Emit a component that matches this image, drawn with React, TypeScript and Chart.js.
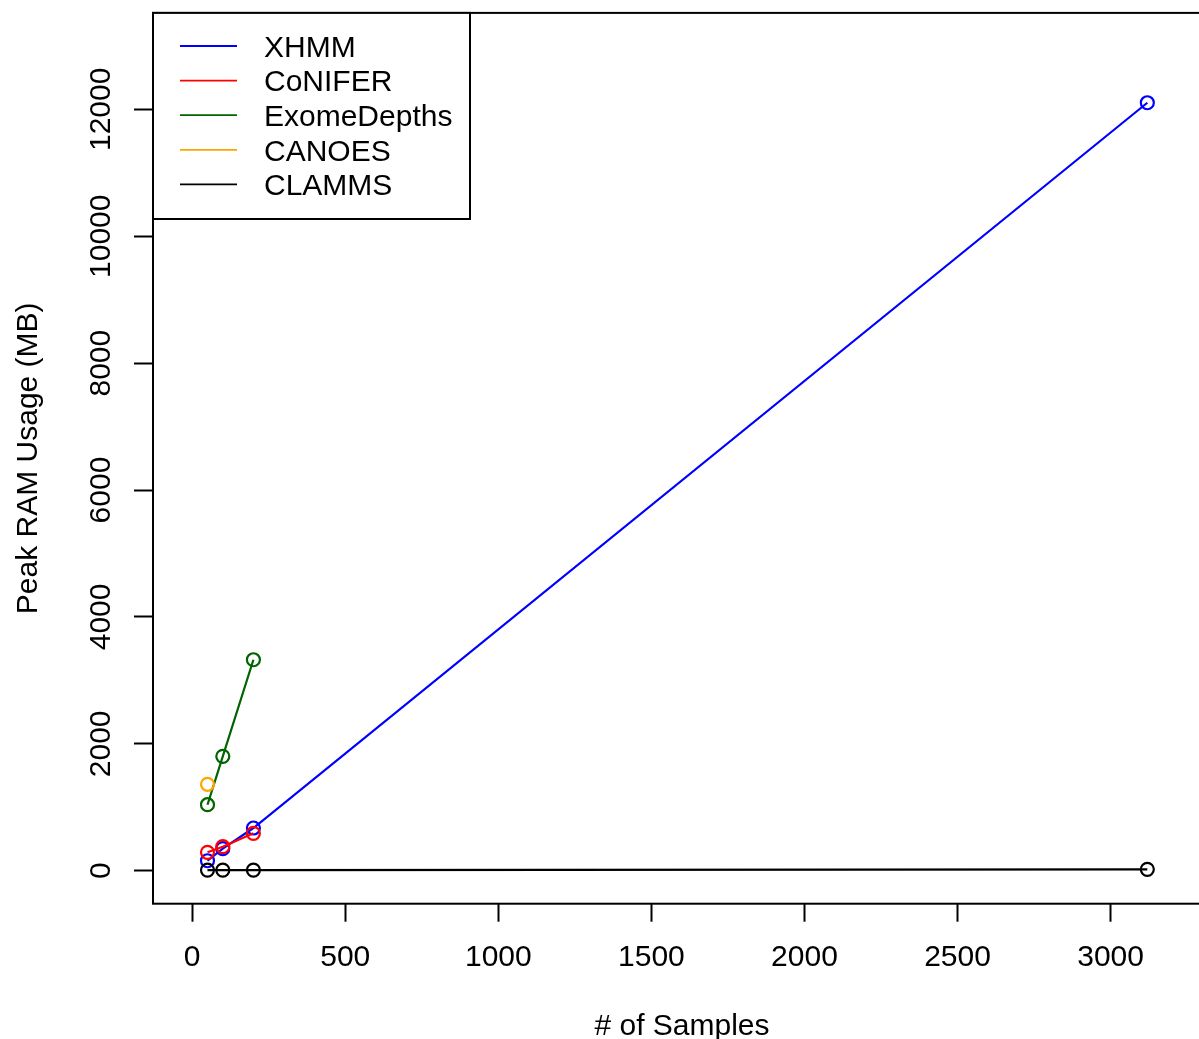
import React, { useEffect, useRef } from "react";
import { Chart, registerables } from "chart.js";

Chart.register(...registerables);

const seriesNames = ["XHMM", "CoNIFER", "ExomeDepths", "CANOES", "CLAMMS"];
const seriesColors = ["#0000FF", "#FF0000", "#006400", "#FFA500", "#000000"];

const xhmmSamples = [50, 100, 200, 3120];
const xhmmRam = [157, 347, 673, 12104];
const coniferSamples = [50, 100, 200];
const coniferRam = [290, 378, 589];
const exomeSamples = [50, 100, 200];
const exomeRam = [1040, 1803, 3325];
const canoesSamples = [50];
const canoesRam = [1362];
const clammsSamples = [50, 100, 200, 3120];
const clammsRam = [10, 10, 10, 22];

const xTicks = [0, 500, 1000, 1500, 2000, 2500, 3000];
const yTicks = [0, 2000, 4000, 6000, 8000, 10000, 12000];

const xTitle = "# of Samples";
const yTitle = "Peak RAM Usage (MB)";

const FONT = "30px 'Liberation Sans', Arial, sans-serif";

const toPoints = (xs: number[], ys: number[]) => xs.map((x, i) => ({ x, y: ys[i] }));

const seriesData = [
  toPoints(xhmmSamples, xhmmRam),
  toPoints(coniferSamples, coniferRam),
  toPoints(exomeSamples, exomeRam),
  toPoints(canoesSamples, canoesRam),
  toPoints(clammsSamples, clammsRam),
];

const decorPlugin = {
  id: "decor",
  afterDraw(chart: any) {
    const ctx = chart.ctx;
    const { left, top, right, bottom } = chart.chartArea;
    const xs = chart.scales.x;
    const ys = chart.scales.y;
    ctx.save();
    ctx.strokeStyle = "#000";
    ctx.lineWidth = 2;
    ctx.strokeRect(left, top, right - left - 1, bottom - top);

    ctx.fillStyle = "#000";
    ctx.font = FONT;
    ctx.textAlign = "center";
    ctx.textBaseline = "alphabetic";
    xTicks.forEach((v) => {
      ctx.fillText(String(v), xs.getPixelForValue(v), 966);
    });
    ctx.fillText(xTitle, (left + right) / 2, 1035);
    yTicks.forEach((v) => {
      ctx.save();
      ctx.translate(109.5, ys.getPixelForValue(v));
      ctx.rotate(-Math.PI / 2);
      ctx.textAlign = "center";
      ctx.textBaseline = "alphabetic";
      ctx.fillText(String(v), 0, 0);
      ctx.restore();
    });
    ctx.save();
    ctx.translate(37, (top + bottom) / 2);
    ctx.rotate(-Math.PI / 2);
    ctx.textAlign = "center";
    ctx.textBaseline = "alphabetic";
    ctx.fillText(yTitle, 0, 0);
    ctx.restore();

    // legend
    const lx = left;
    const ly = top;
    const lw = 470 - left;
    const lh = 219 - top;
    ctx.fillStyle = "#fff";
    ctx.fillRect(lx, ly, lw, lh);
    ctx.strokeStyle = "#000";
    ctx.lineWidth = 2;
    ctx.strokeRect(lx, ly, lw, lh);
    seriesNames.forEach((name, i) => {
      const rowY = 46 + i * 34.6;
      ctx.strokeStyle = seriesColors[i];
      ctx.lineWidth = 1.8;
      ctx.beginPath();
      ctx.moveTo(180, rowY);
      ctx.lineTo(237, rowY);
      ctx.stroke();
      ctx.fillStyle = "#000";
      ctx.textAlign = "left";
      ctx.textBaseline = "alphabetic";
      ctx.fillText(name, 264, rowY + 10.7);
    });
    ctx.restore();
  },
};

export default function App() {
  const ref = useRef<HTMLCanvasElement | null>(null);
  useEffect(() => {
    if (!ref.current) return;
    const chart = new Chart(ref.current, {
      type: "line",
      data: {
        datasets: seriesNames.map((name, i) => ({
          label: name,
          data: seriesData[i],
          borderColor: seriesColors[i],
          backgroundColor: "rgba(0,0,0,0)",
          pointBorderColor: seriesColors[i],
          pointBackgroundColor: "rgba(0,0,0,0)",
          pointRadius: 6.5,
          pointBorderWidth: 2.2,
          borderWidth: 2.2,
          tension: 0,
          fill: false,
          clip: false,
          order: seriesNames.length - i,
        })),
      },
      options: {
        responsive: false,
        animation: false,
        events: [],
        layout: { autoPadding: false, padding: { top: 12.9, left: 0, right: 0, bottom: 0 } },
        plugins: { legend: { display: false }, tooltip: { enabled: false } },
        scales: {
          x: {
            type: "linear",
            min: -128,
            max: 3328,
            afterBuildTicks: (s: any) => {
              s.ticks = xTicks.map((v) => ({ value: v }));
            },
            afterFit: (s: any) => {
              s.height = 1039 - 903.7;
            },
            ticks: { display: false },
            grid: {
              drawOnChartArea: false,
              drawTicks: true,
              tickLength: 18,
              tickColor: "#000",
              tickWidth: 2,
            },
            border: { display: false },
          },
          y: {
            type: "linear",
            min: -520,
            max: 13520,
            afterBuildTicks: (s: any) => {
              s.ticks = yTicks.map((v) => ({ value: v }));
            },
            afterFit: (s: any) => {
              s.width = 153;
            },
            ticks: { display: false },
            grid: {
              drawOnChartArea: false,
              drawTicks: true,
              tickLength: 19,
              tickColor: "#000",
              tickWidth: 2,
            },
            border: { display: false },
          },
        },
      },
      plugins: [decorPlugin],
    });
    return () => chart.destroy();
  }, []);
  return (
    <div style={{ position: "fixed", left: 0, top: 0, width: "1199px", height: "1039px", overflow: "hidden", background: "#fff" }}>
      <canvas ref={ref} width={1211} height={1039} style={{ display: "block" }} />
    </div>
  );
}
